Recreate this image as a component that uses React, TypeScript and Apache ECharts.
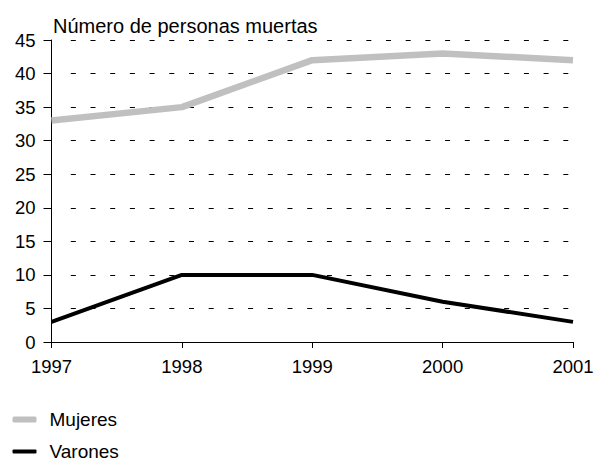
import React, { useEffect, useRef } from "react";
import * as echarts from "echarts";

const years = ["1997", "1998", "1999", "2000", "2001"];
const mujeres = [33, 35, 42, 43, 42];
const varones = [3, 10, 10, 6, 3];

const FONT = "'Liberation Sans', Arial, sans-serif";

// Grid dash pattern: no dash right at the axis, then short dashes every ~19.7px.
const gridDash: number[] = [0, 19.3];
for (let i = 0; i < 27; i++) gridDash.push(5, 14.7);

export default function App() {
  const ref = useRef<HTMLDivElement>(null);

  useEffect(() => {
    if (!ref.current) return;
    const chart = echarts.init(ref.current, null, { renderer: "svg" });
    const legendText = { fontFamily: FONT, fontSize: 19, color: "#000", padding: [0, 0, 0, 8] };
    chart.setOption({
      animation: false,
      backgroundColor: "#ffffff",
      textStyle: { fontFamily: FONT },
      title: {
        text: "Número de personas muertas",
        left: 48,
        top: 11,
        textStyle: { fontFamily: FONT, fontSize: 20, fontWeight: "normal", color: "#000" },
      },
      grid: { left: 51.5, right: 38, top: 40, bottom: 121, containLabel: false },
      legend: [
        {
          orient: "vertical",
          left: 7.5,
          top: 405,
          itemWidth: 24,
          itemHeight: 6,
          icon: "roundRect",
          textStyle: legendText,
          data: [{ name: "Mujeres", itemStyle: { color: "#c0c0c0" } }],
        },
        {
          orient: "vertical",
          left: 7.5,
          top: 437,
          itemWidth: 24,
          itemHeight: 4,
          icon: "roundRect",
          textStyle: legendText,
          data: [{ name: "Varones", itemStyle: { color: "#000000" } }],
        },
      ],
      xAxis: {
        type: "category",
        data: years,
        boundaryGap: false,
        axisLine: { lineStyle: { color: "#000", width: 1 } },
        axisTick: { show: true, length: 6, lineStyle: { color: "#000" } },
        axisLabel: { fontFamily: FONT, fontSize: 18.5, color: "#000", margin: 15 },
        splitLine: { show: false },
      },
      yAxis: {
        type: "value",
        min: 0,
        max: 45,
        interval: 5,
        axisLine: { show: true, lineStyle: { color: "#000", width: 1 } },
        axisTick: { show: true, length: 8, lineStyle: { color: "#000" } },
        axisLabel: { fontFamily: FONT, fontSize: 18.5, color: "#000", margin: 16 },
        splitLine: {
          show: true,
          lineStyle: { color: "#000", width: 1, type: gridDash },
        },
      },
      series: [
        {
          name: "Mujeres",
          type: "line",
          data: mujeres,
          showSymbol: false,
          symbol: "none",
          lineStyle: { color: "#c0c0c0", width: 6.5 },
          itemStyle: { color: "#c0c0c0" },
        },
        {
          name: "Varones",
          type: "line",
          data: varones,
          showSymbol: false,
          symbol: "none",
          lineStyle: { color: "#000000", width: 4 },
          itemStyle: { color: "#000000" },
        },
      ],
    });
    return () => chart.dispose();
  }, []);

  return <div ref={ref} style={{ width: 611, height: 463, position: "absolute", left: 0, top: 0 }} />;
}
